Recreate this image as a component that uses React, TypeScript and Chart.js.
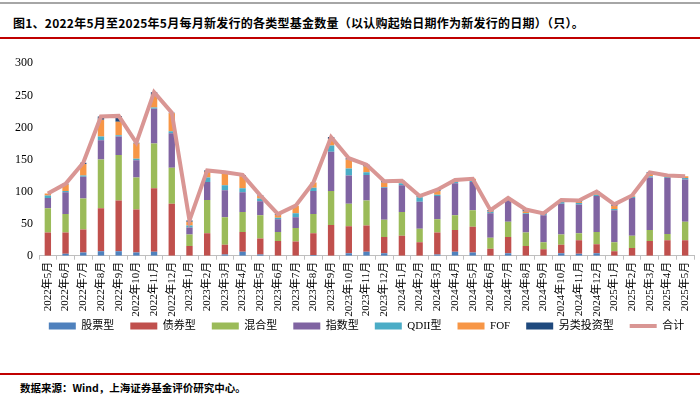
import React, { useEffect, useRef } from "react";
import { Chart, registerables } from "chart.js";

Chart.register(...registerables);

const months = [
  "2022年5月", "2022年6月", "2022年7月", "2022年8月", "2022年9月", "2022年10月", "2022年11月", "2022年12月",
  "2023年1月", "2023年2月", "2023年3月", "2023年4月", "2023年5月", "2023年6月", "2023年7月", "2023年8月",
  "2023年9月", "2023年10月", "2023年11月", "2023年12月", "2024年1月", "2024年2月", "2024年3月", "2024年4月",
  "2024年5月", "2024年6月", "2024年7月", "2024年8月", "2024年9月", "2024年10月", "2024年11月", "2024年12月",
  "2025年1月", "2025年2月", "2025年3月", "2025年4月", "2025年5月",
];

const stockFunds = [0, 3, 5, 7, 7, 5, 6, 0, 0, 0, 2, 6, 2, 0, 0, 1, 0, 4, 6, 4, 0, 0, 2, 6, 5, 0, 4, 0, 0, 4, 3, 4, 0, 0, 0, 0, 0];
const bondFunds = [36, 33, 36, 67, 79, 67, 99, 81, 15, 35, 15, 31, 25, 23, 22, 34, 48, 42, 41, 25, 31, 21, 34, 34, 40, 11, 25, 15, 10, 13, 21, 14, 7, 12, 23, 24, 24];
const mixedFunds = [38, 29, 48, 76, 71, 50, 70, 56, 18, 52, 43, 31, 36, 14, 21, 30, 53, 35, 39, 27, 37, 21, 21, 23, 26, 17, 24, 21, 11, 16, 11, 19, 14, 19, 17, 10, 29];
const indexFunds = [16, 34, 34, 30, 29, 27, 54, 54, 11, 28, 42, 31, 22, 20, 17, 36, 61, 44, 40, 50, 42, 42, 36, 50, 44, 38, 34, 29, 42, 48, 45, 56, 50, 59, 82, 87, 66];
const qdiiFunds = [4, 2, 2, 6, 2, 2, 2, 3, 3, 7, 8, 6, 4, 2, 6, 5, 10, 11, 4, 1, 3, 7, 2, 2, 3, 2, 1, 1, 2, 3, 2, 2, 2, 2, 2, 2, 2];
const fofFunds = [3, 10, 18, 26, 21, 24, 19, 28, 6, 9, 18, 19, 4, 5, 12, 8, 10, 14, 9, 7, 2, 1, 6, 2, 2, 1, 1, 3, 0, 2, 2, 3, 5, 2, 5, 2, 3];
const altFunds = [0, 1, 2, 5, 9, 1, 5, 1, 2, 2, 2, 2, 1, 1, 0, 0, 3, 2, 3, 2, 2, 1, 2, 1, 0, 2, 1, 3, 1, 1, 2, 2, 2, 0, 1, 0, 0];
const totalFunds = [97, 112, 145, 217, 218, 176, 255, 223, 55, 133, 130, 126, 94, 65, 78, 114, 185, 152, 142, 116, 117, 93, 103, 118, 120, 71, 90, 72, 66, 87, 86, 100, 80, 94, 130, 125, 124];

const yTicks = [0, 50, 100, 150, 200, 250, 300];

const FONT = "'Liberation Serif', 'Noto Sans CJK SC', serif";

export default function App() {
  const ref = useRef<HTMLCanvasElement | null>(null);

  useEffect(() => {
    document.body.style.margin = "0";
    const canvas = ref.current;
    if (!canvas) return;
    const barDs = (label: string, data: number[], color: string) => ({
      type: "bar" as const,
      label,
      data,
      backgroundColor: color,
      borderWidth: 0,
      stack: "bars",
      order: 1,
      barPercentage: 0.36,
      categoryPercentage: 1,
    });
    const lineColor = "#D99694";
    const chart = new Chart(canvas, {
      type: "bar",
      data: {
        labels: months,
        datasets: [
          barDs("股票型", stockFunds, "#4F81BD"),
          barDs("债券型", bondFunds, "#C0504D"),
          barDs("混合型", mixedFunds, "#9BBB59"),
          barDs("指数型", indexFunds, "#8064A2"),
          barDs("QDII型", qdiiFunds, "#4BACC6"),
          barDs("FOF", fofFunds, "#F79646"),
          barDs("另类投资型", altFunds, "#1F497D"),
          {
            type: "line" as const,
            label: "合计",
            data: totalFunds,
            borderColor: lineColor,
            backgroundColor: lineColor,
            borderWidth: 4,
            pointRadius: 0,
            tension: 0,
            stack: "total",
            order: -1,
          } as any,
        ],
      },
      options: {
        animation: false,
        responsive: false,
        devicePixelRatio: 1,
        layout: { padding: { left: 0, right: 0, top: 18.3, bottom: 3.5 } },
        plugins: {
          tooltip: { enabled: false },
          legend: {
            position: "bottom",
            labels: {
              font: { size: 11, family: FONT },
              color: "#000",
              usePointStyle: true,
              pointStyleWidth: 27,
              boxHeight: 7,
              padding: 16,
              sort: (a: any, b: any) => a.datasetIndex - b.datasetIndex,
              generateLabels: (ch: any) => {
                const items = (Chart.defaults.plugins.legend.labels as any).generateLabels(ch);
                return items.map((it: any) =>
                  it.datasetIndex === 7
                    ? { ...it, pointStyle: "line", lineWidth: 4, strokeStyle: lineColor, fillStyle: lineColor }
                    : { ...it, pointStyle: "rect", lineWidth: 0 }
                );
              },
            },
          },
        },
        scales: {
          x: {
            stacked: true,
            grid: { display: true, drawOnChartArea: false, drawTicks: true, tickLength: 4, color: "#BFBFBF", offset: true },
            border: { display: true, color: "#BFBFBF" },
            ticks: {
              autoSkip: false,
              minRotation: 90,
              maxRotation: 90,
              padding: 2,
              color: "#000",
              font: { size: 11, family: FONT },
            },
            afterFit: (s: any) => {
              s.height = 48.8;
              s._computeLabelArea = () => undefined;
            },
          },
          y: {
            stacked: true,
            min: 0,
            max: 300,
            afterBuildTicks: (s: any) => {
              s.ticks = yTicks.map((v) => ({ value: v }));
            },
            grid: { display: false, drawTicks: false },
            border: { display: false },
            ticks: { padding: 6, color: "#000", font: { size: 12, family: FONT } },
            afterFit: (s: any) => {
              s.width = 39;
            },
          },
          yPad: {
            position: "right",
            display: true,
            grid: { display: false, drawTicks: false },
            border: { display: false },
            ticks: { display: false },
            afterFit: (s: any) => {
              s.width = 39;
            },
          },
        },
      },
    });
    return () => chart.destroy();
  }, []);

  return (
    <div style={{ position: "relative", width: 700, height: 395, background: "#fff", overflow: "hidden" }}>
      <div style={{ position: "absolute", top: 2, left: 0, width: 700, height: 2, background: "#A6A6A6" }} />
      <div
        style={{
          position: "absolute",
          top: 14,
          left: 13,
          fontFamily: "'Noto Sans CJK SC', sans-serif",
          fontWeight: "bold",
          fontSize: 12,
          lineHeight: "18px",
          letterSpacing: "0.25px",
          color: "#000",
          whiteSpace: "nowrap",
        }}
      >
        图1、2022年5月至2025年5月每月新发行的各类型基金数量（以认购起始日期作为新发行的日期）（只）。
      </div>
      <div style={{ position: "absolute", top: 37, left: 0, width: 700, height: 2, background: "#C00000" }} />
      <div style={{ position: "absolute", top: 45, left: 0, width: 733, height: 300 }}>
        <canvas ref={ref} width={733} height={300} style={{ display: "block", width: 733, height: 300 }} />
      </div>
      <div style={{ position: "absolute", top: 373, left: 0, width: 700, height: 2, background: "#C00000" }} />
      <div
        style={{
          position: "absolute",
          top: 381,
          left: 20,
          fontFamily: "'Noto Sans CJK SC', sans-serif",
          fontWeight: "bold",
          fontSize: 10.5,
          lineHeight: "14px",
          color: "#000",
          whiteSpace: "nowrap",
        }}
      >
        数据来源：Wind，上海证券基金评价研究中心。
      </div>
    </div>
  );
}
